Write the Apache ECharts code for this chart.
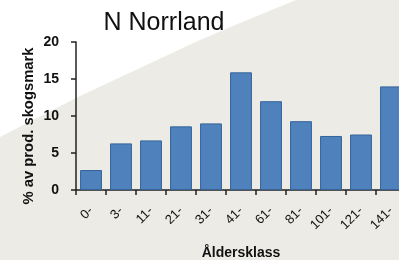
<!DOCTYPE html>
<html><head><meta charset="utf-8">
<script src="https://cdn.jsdelivr.net/npm/echarts@6/dist/echarts.min.js"></script>
<style>html,body{margin:0;padding:0;background:#fff}#c{width:399px;height:260px}</style>
</head><body><div id="c"></div>
<script>
const categories = ['0-','3-','11-','21-','31-','41-','61-','81-','101-','121-','141-'];
const values = [2.7, 6.3, 6.7, 8.6, 9.0, 15.9, 12.0, 9.3, 7.3, 7.5, 14.0];
const yTicks = {min: 0, max: 20, interval: 5};
const titleText = 'N Norrland';
const yName = '% av prod. skogsmark';
const xName = 'Åldersklass';

const chart = echarts.init(document.getElementById('c'), null, {renderer: 'canvas'});
chart.setOption({
  animation: false,
  backgroundColor: '#ffffff',
  graphic: [{
    type: 'polygon', z: -10, silent: true,
    shape: {points: [[296,0],[399,0],[399,260],[0,260],[0,137],[80,96],[200,40],[240,23]]},
    style: {fill: '#ecebe5'}
  }],
  title: {
    text: titleText, left: 159, top: 6, textAlign: 'center',
    textStyle: {fontFamily: 'Liberation Sans', fontSize: 25, fontWeight: 'normal', color: '#111'}
  },
  grid: {left: 76, top: 42, width: 330, height: 148, containLabel: false, outerBoundsMode: 'none'},
  xAxis: {
    type: 'category', data: categories,
    name: xName, nameLocation: 'middle', nameGap: 56, nameMoveOverlap: false,
    nameTextStyle: {fontFamily: 'Liberation Sans', fontWeight: 'bold', fontSize: 14, color: '#111'},
    axisLine: {lineStyle: {color: '#222', width: 1.5}},
    axisTick: {show: true, length: 5, lineStyle: {color: '#222', width: 1.5}},
    axisLabel: {rotate: 45, margin: 19, fontFamily: 'Liberation Sans', fontSize: 13, color: '#111', interval: 0}
  },
  yAxis: {
    type: 'value', min: yTicks.min, max: yTicks.max, interval: yTicks.interval,
    name: yName, nameLocation: 'middle', nameGap: 40, nameMoveOverlap: false,
    nameTextStyle: {fontFamily: 'Liberation Sans', fontWeight: 'bold', fontSize: 14.8, color: '#111', padding: [0, 20, 0, 0]},
    axisLine: {show: true, lineStyle: {color: '#222', width: 1.5}},
    axisTick: {show: true, length: 5, lineStyle: {color: '#222', width: 1.5}},
    splitLine: {show: false},
    axisLabel: {margin: 17, fontFamily: 'Liberation Sans', fontWeight: 'bold', fontSize: 14, color: '#111'}
  },
  series: [{
    type: 'bar', data: values, barCategoryGap: '27%',
    itemStyle: {color: '#4f81bd', borderColor: '#34649a', borderWidth: 1}
  }]
});
</script></body></html>
